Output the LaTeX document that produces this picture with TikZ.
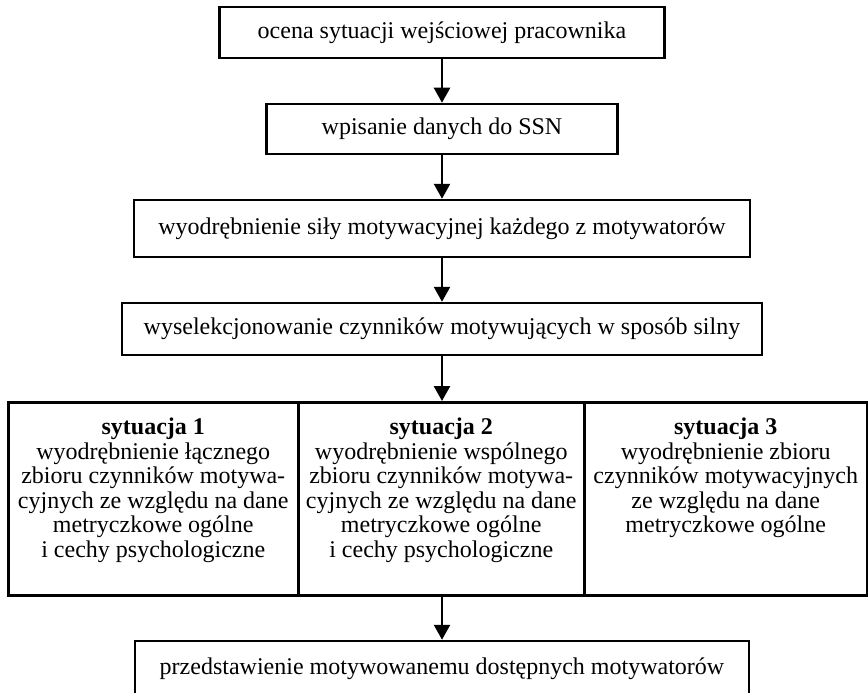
\documentclass[tikz,border=0pt]{standalone}
\usepackage{fontspec}
\setmainfont{Liberation Serif}
\usetikzlibrary{arrows.meta}

\begin{document}
\begin{tikzpicture}[x=1pt, y=-1pt,
        box/.style={draw, line width=2.5pt, inner sep=0pt, font=\fontsize{24}{24.5}\selectfont},
        sitbox/.style={box, anchor=north west, minimum height=193pt},
        flow/.style={line width=2.5pt, -{Triangle[width=16pt,length=15pt]}}]
        % Define Variables
        \def\colX{442}
        \def\sitTop{401}
        \useasboundingbox (0,0) rectangle (868,693);

        % Main Steps
        \node[box, minimum width=445pt, minimum height=51pt] (b1) at (\colX, 32.5) {ocena sytuacji wejściowej pracownika};
        \node[box, minimum width=351pt, minimum height=50pt] (b2) at (\colX, 129) {wpisanie danych do SSN};
        \node[box, minimum width=616pt, minimum height=57pt] (b3) at (\colX, 228.5) {wyodrębnienie siły motywacyjnej każdego z motywatorów};
        \node[box, minimum width=640pt, minimum height=52pt] (b4) at (\colX, 329) {wyselekcjonowanie czynników motywujących w sposób silny};

        % Situations
        \node[sitbox, minimum width=290pt] (s1) at (7, \sitTop) {\parbox[c][161pt][t]{280pt}{\centering
            \textbf{sytuacja 1}\\ wyodrębnienie łącznego\\ zbioru czynników motywa-\\ cyjnych ze względu na dane\\ metryczkowe ogólne\\ i cechy psychologiczne}};
        \node[sitbox, minimum width=286pt] (s2) at (297, \sitTop) {\parbox[c][161pt][t]{276pt}{\centering
            \textbf{sytuacja 2}\\ wyodrębnienie wspólnego\\ zbioru czynników motywa-\\ cyjnych ze względu na dane\\ metryczkowe ogólne\\ i cechy psychologiczne}};
        \node[sitbox, minimum width=283pt] (s3) at (583, \sitTop) {\parbox[c][161pt][t]{273pt}{\centering
            \textbf{sytuacja 3}\\ wyodrębnienie zbioru\\ czynników motywacyjnych\\ ze względu na dane\\ metryczkowe ogólne}};

        % Result
        \node[box, minimum width=614pt, minimum height=56pt] (b5) at (\colX, 669) {przedstawienie motywowanemu dostępnych motywatorów};

        % Arrows
        \draw[flow] (b1) -- (b2);
        \draw[flow] (b2) -- (b3);
        \draw[flow] (b3) -- (b4);
        \draw[flow] (b4.south) -- (b4.south |- s2.north);
        \draw[flow] (s2.south -| b5.north) -- (b5.north);
\end{tikzpicture}
\end{document}
